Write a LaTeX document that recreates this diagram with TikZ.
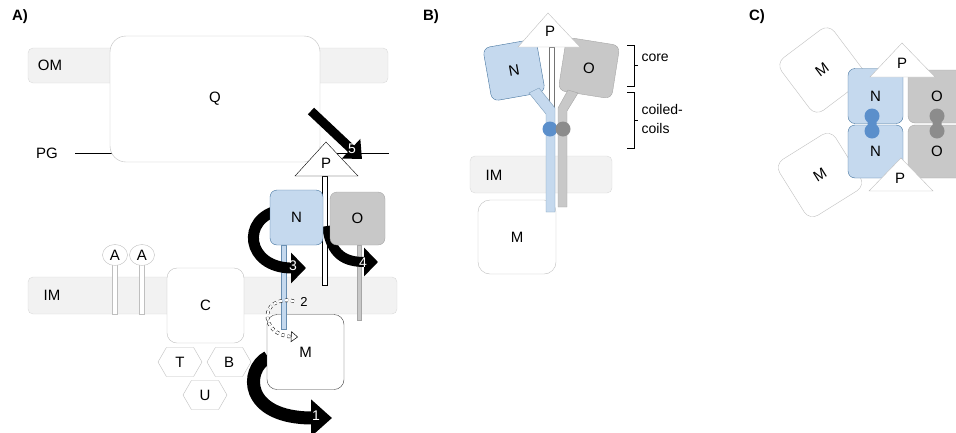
\documentclass[tikz,border=0pt]{standalone}
\usepackage{fontspec}
\setmainfont{Liberation Sans}
\usepackage{xcolor}
\usetikzlibrary{arrows.meta,shapes.geometric,shapes.symbols}

\definecolor{bandgray}{HTML}{F2F2F2}
\definecolor{bandline}{HTML}{D9D9D9}
\definecolor{softline}{HTML}{BFBFBF}
\definecolor{nfill}{HTML}{C5D9EE}
\definecolor{nline}{HTML}{41719C}
\definecolor{ofill}{HTML}{C8C8C8}
\definecolor{oline}{HTML}{A6A6A6}
\definecolor{ndot}{HTML}{5B8FCB}
\definecolor{odot}{HTML}{8C8C8C}

\begin{document}
\begin{tikzpicture}[x=1pt,y=-1pt,
  font=\fontsize{15}{17}\selectfont,
  band/.style={draw=bandline,fill=bandgray,rounded corners=5pt},
  soft/.style={draw=softline,fill=white,rounded corners=12pt,inner sep=0pt},
  nbox/.style={draw=nline,fill=nfill,rounded corners=7pt,minimum width=54pt,minimum height=54pt,inner sep=0pt},
  obox/.style={draw=oline,fill=ofill,rounded corners=7pt,minimum width=54pt,minimum height=54pt,inner sep=0pt},
  tri/.style={draw=black,fill=white},
  stem/.style={draw=black,fill=white,line width=0.6pt},
  hexa/.style={signal,signal to=west and east,signal pointer angle=120,draw=softline,fill=white,minimum width=44pt,minimum height=29pt,inner sep=0pt},
  fat/.style={line width=11pt,-{Triangle[length=15pt,width=30pt]}},
  num/.style={text=white,font=\fontsize{14}{16}\selectfont},
  lbl/.style={font=\bfseries\fontsize{15}{17}\selectfont}]
\useasboundingbox (0,0) rectangle (956,432);

% ---- A) ----
\node[lbl] (tA) at (20,17) {A)};
\draw[band] (28,48) rectangle (388,83);
\node (om) at (50,65) {OM};
\node (pg) at (47,153) {PG};
\draw (75,153) -- (389,153);
\node[soft,minimum width=210pt,minimum height=126pt,rounded corners=16pt] (Q) at (215,99) {Q};

\draw[band] (28,277) rectangle (397,314);
\node (im) at (52,295) {IM};
\foreach \x/\n in {115/a1,142/a2}{
  \draw[draw=softline,fill=white] (\x-2.5,264) rectangle (\x+2.5,314);
  \node[ellipse,draw=softline,fill=white,minimum width=25pt,minimum height=21pt,inner sep=0pt] (\n) at (\x,255) {A};
}
\node[soft,minimum width=77pt,minimum height=75pt,rounded corners=10pt] (C) at (205.5,305.5) {C};
\node[hexa] (T) at (180,362) {T};
\node[hexa] (B) at (229,362) {B};
\node[hexa] (U) at (205,395) {U};

\coordinate (s1) at (268,357); \coordinate (e1) at (332,418);
\coordinate (s3) at (280,210); \coordinate (e3) at (306,268);
\coordinate (s4) at (327,226); \coordinate (e4) at (378,262);
\coordinate (s5) at (311,111); \coordinate (e5) at (362,159);
\draw[fat,line width=13pt,-{Triangle[length=21pt,width=36pt]}] (s1) .. controls (244,370) and (244,418) .. (e1);

\node[draw=black!75,fill=white,rounded corners=10pt,minimum width=77pt,minimum height=75pt] (M) at (305.5,352) {M};
\draw[draw=nline!80,fill=nfill] (281,245) rectangle (286,329);
\draw[draw=oline,fill=ofill] (357,245) rectangle (361,320);
\draw[stem] (322,176) rectangle (327,285);
\draw[fat] (s3) .. controls (240,218) and (246,268) .. (e3);
\draw[fat,line width=10pt,-{Triangle[length=14pt,width=28pt]}] (s4) .. controls (331,256) and (346,262) .. (e4);
\node[nbox,minimum width=53pt,minimum height=55pt] (N) at (296.5,217.5) {N};
\node[obox,minimum width=55pt,minimum height=53pt] (O) at (357.5,218.5) {O};
\draw[tri] (295,176) -- (326,142) -- (358,176) -- cycle;
\node (P) at (326,163) {P};

\draw[fat,line width=9pt,-{Triangle[length=15pt,width=26pt]}] (s5) -- (e5);
\node[num] (n1) at (316,416) {1};
\node[num] (n3) at (293,266) {3};
\node[num] (n4) at (363,263) {4};
\node[num] (n5) at (352,149) {5};
\draw[dashed,double,double distance=2.4pt,line width=0.5pt,-{Triangle[open,length=7pt,width=11pt]}]
  (294,301) .. controls (258,295) and (260,335) .. (298,337);
\node[font=\fontsize{13}{15}\selectfont] (n2) at (304,302) {2};

% ---- B) ----
\node[lbl] (tB) at (431,17) {B)};
\draw[band] (470,156) rectangle (612,193);
\node (imB) at (494,175) {IM};
\node[soft,minimum width=78pt,minimum height=74pt] (MB) at (517,237) {M};
\draw[draw=black!55,fill=white] (549,47) rectangle (554,112);
\node[nbox,rotate=10] (NB) at (514,70) {N};
\node[obox,rotate=-9] (OB) at (589,68) {O};
\draw[draw=nline!70,fill=nfill] (529,93) -- (539,88) -- (555,108) -- (555,212) -- (546,212) -- (546,114) -- cycle;
\draw[draw=oline,fill=ofill] (568,90) -- (578,93) -- (567,111) -- (567,207) -- (558,207) -- (558,108) -- cycle;
\fill[ndot] (550,129) circle (7.5pt);
\fill[odot] (563,129) circle (7.5pt);
\draw[tri,draw=softline] (518,47) -- (548,13) -- (580,47) -- cycle;
\node (PB) at (550,31) {P};
\draw (627,45) -- (634,45) -- (634,86) -- (627,86) (634,65.5) -- (638,65.5);
\draw (627,92) -- (634,92) -- (634,148) -- (627,148) (634,120) -- (638,120);
\node[anchor=west,font=\fontsize{14}{16}\selectfont] (core) at (638,58) {core};
\node[anchor=west,align=left,font=\fontsize{14}{19}\selectfont] (cc) at (638,119) {coiled-\\coils};

% ---- C) ----
\node[lbl] (tC) at (757,17) {C)};
\node[soft,rotate=37,minimum size=66pt,rounded corners=10pt] (MC1) at (822,70) {M};
\node[soft,rotate=32,minimum size=66pt,rounded corners=10pt] (MC2) at (820,175) {M};
\node[nbox,minimum width=55pt,minimum height=55pt] (NC1) at (875.5,96) {N};
\node[nbox,minimum width=55pt,minimum height=53pt] (NC2) at (875.5,151.5) {N};
\node[obox,minimum width=58pt,minimum height=53pt] (OC1) at (937,96.5) {O};
\node[obox,minimum width=58pt,minimum height=53pt] (OC2) at (937,151.5) {O};
\fill[ndot] (872,116) circle (7.5pt) (872,131) circle (7.5pt) (867.5,116) rectangle (876.5,131);
\fill[odot] (937,116) circle (7.5pt) (937,131) circle (7.5pt) (932.5,116) rectangle (941.5,131);
\draw[tri,draw=softline] (870,77) -- (902,43) -- (935,77) -- cycle;
\node (PC1) at (902,63) {P};
\draw[tri,draw=softline] (869,191) -- (901,158) -- (933,191) -- cycle;
\node (PC2) at (900,178) {P};
\end{tikzpicture}
\end{document}
